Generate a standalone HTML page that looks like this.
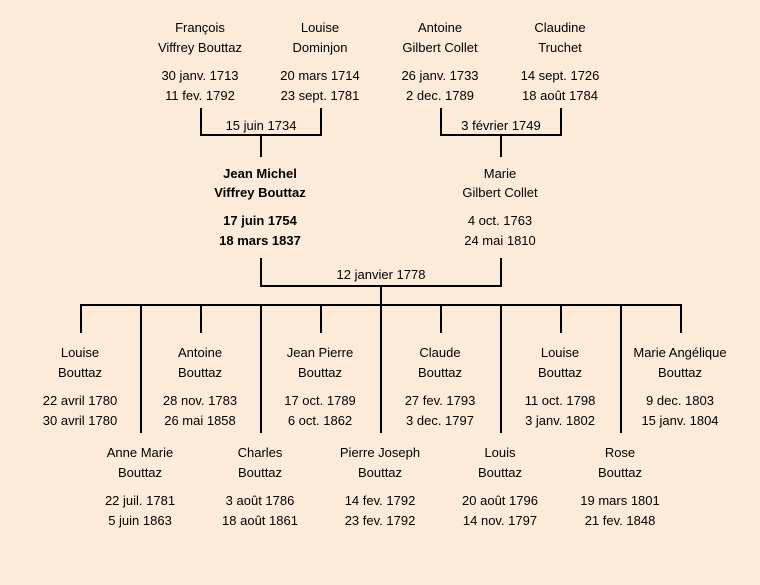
<!DOCTYPE html>
<html><head><meta charset="utf-8"><style>
html,body{margin:0;padding:0;background:#fdebd9;}
svg{display:block}
text{font-family:"Liberation Sans","DejaVu Sans",sans-serif;font-size:13px;fill:#000;text-anchor:middle}
.b{font-weight:bold}
</style></head><body>
<svg width="760" height="585" viewBox="0 0 760 585">
<rect width="760" height="585" fill="#fdebd9"/>
<g stroke="#000" stroke-width="2" fill="none">
<path d="M201 108V135H321V108M261 135V157"/>
<path d="M441 108V135H561V108M501 135V157"/>
<path d="M261 258V286H501V258M381 286V305"/>
<path d="M80 305H682"/>
<path d="M81 305V333M201 305V333M321 305V333M441 305V333M561 305V333M681 305V333"/>
<path d="M141 305V433M261 305V433M381 305V433M501 305V433M621 305V433"/>
</g>
<g>
<text x="200" y="32">François</text><text x="200" y="52">Viffrey Bouttaz</text><text x="200" y="80">30 janv. 1713</text><text x="200" y="100">11 fev. 1792</text>
<text x="320" y="32">Louise</text><text x="320" y="52">Dominjon</text><text x="320" y="80">20 mars 1714</text><text x="320" y="100">23 sept. 1781</text>
<text x="440" y="32">Antoine</text><text x="440" y="52">Gilbert Collet</text><text x="440" y="80">26 janv. 1733</text><text x="440" y="100">2 dec. 1789</text>
<text x="560" y="32">Claudine</text><text x="560" y="52">Truchet</text><text x="560" y="80">14 sept. 1726</text><text x="560" y="100">18 août 1784</text>
<text x="261" y="130">15 juin 1734</text>
<text x="501" y="130">3 février 1749</text>
<text class="b" x="260" y="178">Jean Michel</text><text class="b" x="260" y="197">Viffrey Bouttaz</text><text class="b" x="260" y="225">17 juin 1754</text><text class="b" x="260" y="245">18 mars 1837</text>
<text x="500" y="178">Marie</text><text x="500" y="197">Gilbert Collet</text><text x="500" y="225">4 oct. 1763</text><text x="500" y="245">24 mai 1810</text>
<text x="381" y="279">12 janvier 1778</text>

<text x="80" y="357">Louise</text><text x="80" y="377">Bouttaz</text><text x="80" y="405">22 avril 1780</text><text x="80" y="425">30 avril 1780</text>
<text x="200" y="357">Antoine</text><text x="200" y="377">Bouttaz</text><text x="200" y="405">28 nov. 1783</text><text x="200" y="425">26 mai 1858</text>
<text x="320" y="357">Jean Pierre</text><text x="320" y="377">Bouttaz</text><text x="320" y="405">17 oct. 1789</text><text x="320" y="425">6 oct. 1862</text>
<text x="440" y="357">Claude</text><text x="440" y="377">Bouttaz</text><text x="440" y="405">27 fev. 1793</text><text x="440" y="425">3 dec. 1797</text>
<text x="560" y="357">Louise</text><text x="560" y="377">Bouttaz</text><text x="560" y="405">11 oct. 1798</text><text x="560" y="425">3 janv. 1802</text>
<text x="680" y="357">Marie Angélique</text><text x="680" y="377">Bouttaz</text><text x="680" y="405">9 dec. 1803</text><text x="680" y="425">15 janv. 1804</text>

<text x="140" y="457">Anne Marie</text><text x="140" y="477">Bouttaz</text><text x="140" y="505">22 juil. 1781</text><text x="140" y="525">5 juin 1863</text>
<text x="260" y="457">Charles</text><text x="260" y="477">Bouttaz</text><text x="260" y="505">3 août 1786</text><text x="260" y="525">18 août 1861</text>
<text x="380" y="457">Pierre Joseph</text><text x="380" y="477">Bouttaz</text><text x="380" y="505">14 fev. 1792</text><text x="380" y="525">23 fev. 1792</text>
<text x="500" y="457">Louis</text><text x="500" y="477">Bouttaz</text><text x="500" y="505">20 août 1796</text><text x="500" y="525">14 nov. 1797</text>
<text x="620" y="457">Rose</text><text x="620" y="477">Bouttaz</text><text x="620" y="505">19 mars 1801</text><text x="620" y="525">21 fev. 1848</text>
</g>
</svg>
</body></html>
